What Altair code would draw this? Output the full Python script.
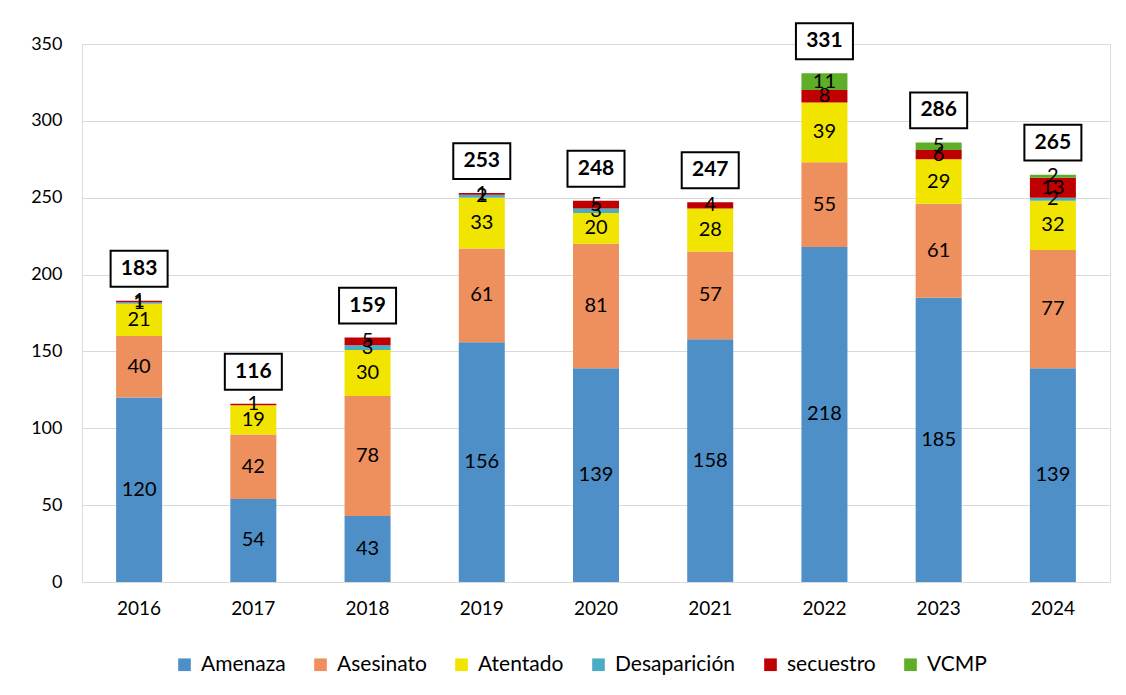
import altair as alt
import pandas as pd

years = ["2016", "2017", "2018", "2019", "2020", "2021", "2022", "2023", "2024"]
categories = ["Amenaza", "Asesinato", "Atentado", "Desaparición", "secuestro", "VCMP"]
colors = ["#4E8FC8", "#EE8F5E", "#F1E500", "#4BACC6", "#C00000", "#5EAE2A"]

amenaza = [120, 54, 43, 156, 139, 158, 218, 185, 139]
asesinato = [40, 42, 78, 61, 81, 57, 55, 61, 77]
atentado = [21, 19, 30, 33, 20, 28, 39, 29, 32]
desaparicion = [1, 0, 3, 2, 3, 0, 0, 0, 2]
secuestro = [1, 1, 5, 1, 5, 4, 8, 6, 13]
vcmp = [0, 0, 0, 0, 0, 0, 11, 5, 2]
totals = [183, 116, 159, 253, 248, 247, 331, 286, 265]

series = [amenaza, asesinato, atentado, desaparicion, secuestro, vcmp]
rows = []
for ci, (cat, vals) in enumerate(zip(categories, series)):
    for y, v in zip(years, vals):
        if v > 0:
            rows.append({"year": y, "cat": cat, "value": v, "ord": ci})
df = pd.DataFrame(rows)
tot_df = pd.DataFrame({"year": years, "total": totals})

FONT = "Lato"

x_enc = alt.X("year:N", sort=years, title=None,
              scale=alt.Scale(paddingInner=0, paddingOuter=0),
              axis=alt.Axis(labelAngle=0, labelFontSize=19, labelColor="#000",
                            labelPadding=17, ticks=False, domainColor="#d9d9d9",
                            labelFont=FONT))
y_scale = alt.Scale(domain=[0, 350], nice=False)

base = alt.Chart(df).transform_stack(
    stack="value", groupby=["year"], as_=["v0", "v1"],
    sort=[alt.SortField("ord", order="ascending")]
)

bars = base.mark_bar(width=46).encode(
    x=x_enc,
    y=alt.Y("v0:Q", scale=y_scale, title=None,
            axis=alt.Axis(values=[0, 50, 100, 150, 200, 250, 300, 350],
                          labelFontSize=18, labelColor="#000", labelPadding=20,
                          ticks=False, domain=False, gridColor="#d9d9d9",
                          labelFont=FONT)),
    y2="v1:Q",
    color=alt.Color("cat:N", sort=categories, title=None,
                    scale=alt.Scale(domain=categories, range=colors),
                    legend=alt.Legend(orient="none", direction="horizontal",
                                      legendX=92, legendY=610,
                                      symbolType="square", symbolSize=160,
                                      symbolStrokeWidth=0, labelFontSize=21,
                                      labelFont=FONT, labelColor="#000",
                                      labelOffset=6, columnPadding=24, padding=0)),
)

labels = base.transform_calculate(mid="(datum.v0 + datum.v1) / 2").mark_text(
    fontSize=20, font=FONT, color="#000", baseline="middle"
).encode(
    x=alt.X("year:N", sort=years),
    y=alt.Y("mid:Q", scale=y_scale),
    text="value:Q",
)

boxes = alt.Chart(tot_df).mark_point(
    shape="M-1,-0.63H1V0.63H-1Z", size=3250, filled=True, fill="white",
    stroke="black", strokeWidth=2, yOffset=-32, opacity=1
).encode(
    x=alt.X("year:N", sort=years),
    y=alt.Y("total:Q", scale=y_scale),
)

tot_text = alt.Chart(tot_df).mark_text(
    fontSize=21, font=FONT, fontWeight="bold", color="#000", baseline="middle",
    yOffset=-32
).encode(
    x=alt.X("year:N", sort=years),
    y=alt.Y("total:Q", scale=y_scale),
    text="total:Q",
)

chart = alt.layer(bars, labels, boxes, tot_text).properties(
    width=1028, height=538,
    autosize=alt.AutoSizeParams(type="none"),
    padding={"left": 74, "top": 36, "right": 8, "bottom": 105},
).configure_view(stroke=None).configure(background="white")

chart.save("out.html", embed_options={"renderer": "svg", "actions": False})
